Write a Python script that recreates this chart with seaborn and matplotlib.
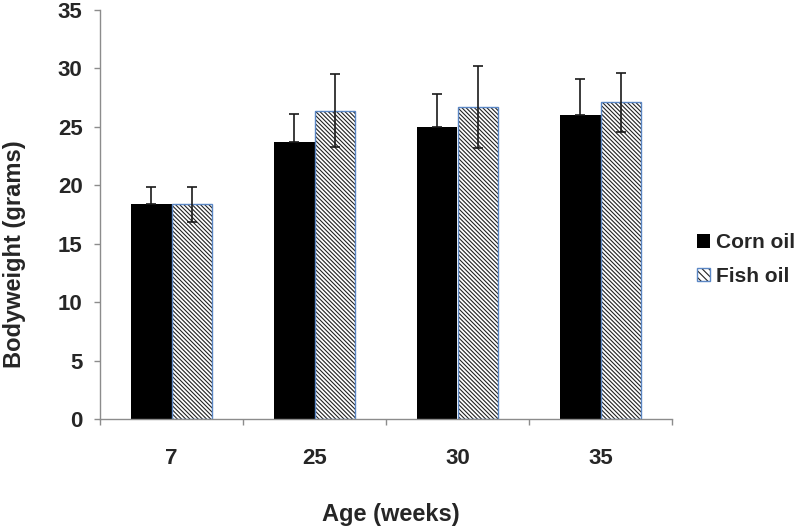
import pandas as pd
import numpy as np
import matplotlib
matplotlib.use("Agg")
import matplotlib.pyplot as plt
import seaborn as sns
from matplotlib.patches import Patch, Rectangle
from matplotlib.legend_handler import HandlerTuple

# ---------------------- Data ----------------------------------------------------------
ages = ["7", "25", "30", "35"]
diets = ["Corn oil", "Fish oil"]
corn_mean = [18.4, 23.7, 25.0, 26.0]
corn_err = [1.5, 2.4, 2.8, 3.1]
fish_mean = [18.4, 26.4, 26.7, 27.1]
fish_err = [1.5, 3.1, 3.5, 2.5]

df = pd.DataFrame({
    "Age": ages * 2,
    "Diet": [diets[0]] * 4 + [diets[1]] * 4,
    "Weight": corn_mean + fish_mean,
})

sns.set_style("white")
plt.rcParams["font.family"] = ["Liberation Sans", "DejaVu Sans"]
plt.rcParams["font.weight"] = "bold"
plt.rcParams["hatch.linewidth"] = 0.8

HATCH = "\\" * 8

fig = plt.figure(figsize=(8, 5.3), dpi=100)
ax = fig.add_axes([0.125, 0.2094, 0.715, 0.7716])

sns.barplot(data=df, x="Age", y="Weight", hue="Diet", order=ages, hue_order=diets,
            palette=["black", "white"], width=0.56, gap=0, errorbar=None,
            legend=False, ax=ax, linewidth=0, saturation=1)

blue = "#5B87C5"
# fish oil bars: black hatching, thin blue outline
for p in ax.containers[1]:
    p.set_facecolor("white")
    p.set_edgecolor("#222222")
    p.set_linewidth(0)
    p.set_hatch(HATCH)
    ax.add_patch(Rectangle((p.get_x(), 0), p.get_width(), p.get_height(),
                           fill=False, edgecolor=blue, linewidth=1.0, zorder=p.get_zorder() + 0.1))

# error bars (corn oil only upward, like the original)
for cont, errs, lower in zip(ax.containers[:2], [corn_err, fish_err], [False, True]):
    xs = [p.get_x() + p.get_width() / 2 for p in cont]
    hs = [p.get_height() for p in cont]
    low = errs if lower else [0] * len(errs)
    ax.errorbar(xs, hs, yerr=[low, errs], fmt="none", ecolor="#1a1a1a", elinewidth=1.2,
                capsize=3.5, capthick=1.2, zorder=5)

ax.set_ylim(0, 35)
ax.set_xlim(-0.5, 3.5)
ax.set_yticks(np.arange(0, 36, 5))
ax.set_xticks(range(len(ages)))
ax.set_xticklabels(ages)
ax.set_xticks(np.arange(-0.5, 4, 1), minor=True)

sns.despine(ax=ax)
for s in ["left", "bottom"]:
    ax.spines[s].set_color("#8c8c8c")
    ax.spines[s].set_linewidth(1.0)

ax.tick_params(axis="y", which="major", direction="out", length=4.5, width=1,
               color="#8c8c8c", pad=8, labelsize=16, left=True)
ax.tick_params(axis="x", which="major", length=0, pad=21, labelsize=16)
ax.tick_params(axis="x", which="minor", direction="out", length=4.5, width=1,
               color="#8c8c8c", bottom=True)
for lbl in ax.get_xticklabels() + ax.get_yticklabels():
    lbl.set_fontweight("bold")

ax.set_ylabel("Bodyweight (grams)", fontsize=17, fontweight="bold")
ax.set_xlabel("Age (weeks)", fontsize=17, fontweight="bold")
ax.yaxis.set_label_coords(-0.13, 0.403)
ax.xaxis.set_label_coords(0.509, -0.205)

# legend
corn_h = Patch(facecolor="black", edgecolor="none")
fish_h = (Patch(facecolor="white", edgecolor="#222222", linewidth=0, hatch="\\" * 5),
          Patch(fill=False, edgecolor=blue, linewidth=1.0))
ax.legend([corn_h, fish_h], diets, loc="center left", bbox_to_anchor=(1.044, 0.39),
          frameon=False, handlelength=0.6, handleheight=0.6, handletextpad=0.3,
          labelspacing=0.7, borderpad=0, borderaxespad=0,
          prop={"size": 15, "weight": "bold"},
          handler_map={tuple: HandlerTuple(ndivide=1, pad=0)})

fig.savefig("out.png", dpi=100)
